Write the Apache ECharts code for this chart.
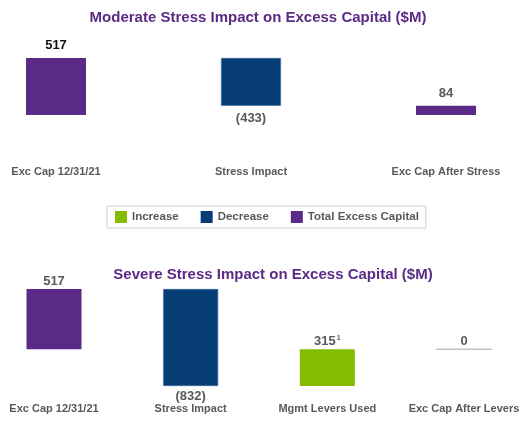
<!DOCTYPE html>
<html>
<head>
<meta charset="utf-8">
<script src="https://cdn.jsdelivr.net/npm/echarts@6/dist/echarts.min.js"></script>
<style>
  html, body { margin: 0; padding: 0; background: #fff; }
  #chart { width: 528px; height: 421px; }
</style>
</head>
<body>
<div id="chart"></div>
<script>
// moderate scenario
const modCategories = ['Exc Cap 12/31/21', 'Stress Impact', 'Exc Cap After Stress'];
const modValues = [517, -433, 84];
const modKinds = ['total', 'decrease', 'total'];

// severe scenario
const sevCategories = ['Exc Cap 12/31/21', 'Stress Impact', 'Mgmt Levers Used', 'Exc Cap After Levers'];
const sevValues = [517, -832, 315, 0];
const sevKinds = ['total', 'decrease', 'increase', 'total'];
const sevNotes = ['', '', '1', ''];

const kindNames = { total: 'Total Excess Capital', decrease: 'Decrease', increase: 'Increase' };
const kindColors = { total: '#5b2a86', decrease: '#063d74', increase: '#84bc00' };
const gray = '#595959';

// waterfall: invisible base + visible height, plus min/max of running total
function waterfall (values, kinds) {
  let run = 0, lo = 0, hi = 0;
  const base = [], height = [];
  for (let i = 0; i < values.length; i++) {
    const v = values[i];
    if (kinds[i] === 'total') {
      base.push(0); height.push(v); run = v;
    } else if (v < 0) {
      base.push(run + v); height.push(-v); run = run + v;
    } else {
      base.push(run); height.push(v); run = run + v;
    }
    lo = Math.min(lo, run); hi = Math.max(hi, run);
  }
  return { base, height, lo, hi };
}

const mod = waterfall(modValues, modKinds);
const sev = waterfall(sevValues, sevKinds);

function labelText (v, note) {
  let s = v < 0 ? '(' + (-v) + ')' : String(v);
  s = '{v|' + s + '}';
  if (note) s += '{s|' + note + '}';
  return s;
}

function buildSeries (idx, values, kinds, wf, barWidth, notes, upGap, downGap) {
  const list = [{
    type: 'bar', xAxisIndex: idx, yAxisIndex: idx, stack: 'w' + idx, stackStrategy: 'all',
    barWidth: barWidth, silent: true,
    itemStyle: { color: 'transparent' },
    data: wf.base
  }];
  ['total', 'decrease', 'increase'].forEach(kind => {
    const data = values.map((v, i) => {
      if (kinds[i] !== kind) return { value: 0, itemStyle: { color: 'transparent', borderWidth: 0 } };
      const item = {
        value: wf.height[i],
        label: {
          show: true,
          position: v < 0 ? 'bottom' : 'top',
          distance: v < 0 ? downGap : upGap,
          formatter: labelText(v, notes ? notes[i] : ''),
          rich: {
            v: { fontFamily: 'Liberation Sans', fontWeight: 'bold', fontSize: 13,
                 color: (idx === 0 && i === 0) ? '#111' : gray },
            s: { fontFamily: 'Liberation Sans', fontWeight: 'bold', fontSize: 7, color: gray,
                 padding: [0, 0, 7, 1] }
          }
        }
      };
      if (v === 0) {
        item.itemStyle = { color: '#bbb', borderColor: '#bbb', borderWidth: 1 };
      } else if (kind === 'decrease') {
        item.itemStyle = { borderColor: '#3f71a6', borderWidth: 0.6 };
      }
      return item;
    });
    list.push({
      type: 'bar', name: kindNames[kind], xAxisIndex: idx, yAxisIndex: idx,
      stack: 'w' + idx, stackStrategy: 'all', barWidth: barWidth,
      itemStyle: { color: kindColors[kind] },
      data: data
    });
  });
  return list;
}

function xAxis (idx, cats, margin) {
  return {
    type: 'category', gridIndex: idx, data: cats, boundaryGap: false,
    axisLine: { show: false }, axisTick: { show: false },
    axisLabel: { interval: 0, margin: margin, color: gray, fontFamily: 'Liberation Sans',
                 fontWeight: 'bold', fontSize: 11 }
  };
}

function yAxis (idx, wf) {
  return {
    type: 'value', gridIndex: idx, min: wf.lo, max: wf.hi, show: false,
    splitLine: { show: false }
  };
}

let myChart = echarts.init(document.getElementById('chart'));
let option = {
  animation: false,
  title: [
    { text: 'Moderate Stress Impact on Excess Capital ($M)', left: 253, top: 5, textAlign: 'center',
      textStyle: { color: '#5b2a86', fontFamily: 'Liberation Sans', fontWeight: 'bold', fontSize: 15 } },
    { text: 'Severe Stress Impact on Excess Capital ($M)', left: 268, top: 262, textAlign: 'center',
      textStyle: { color: '#5b2a86', fontFamily: 'Liberation Sans', fontWeight: 'bold', fontSize: 15 } }
  ],
  legend: {
    data: ['Increase', 'Decrease', 'Total Excess Capital'],
    left: 107, top: 206, icon: 'rect', itemWidth: 12, itemHeight: 12, itemGap: 22,
    padding: [5, 7, 5, 8], borderColor: '#d0d0d0', borderWidth: 1,
    textStyle: { color: gray, fontFamily: 'Liberation Sans', fontWeight: 'bold', fontSize: 11.5 }
  },
  grid: [
    { left: 56, right: 82, top: 58, bottom: 306 },
    { left: 54, right: 64, top: 289, bottom: 35 }
  ],
  xAxis: [xAxis(0, modCategories, 51), xAxis(1, sevCategories, 17)],
  yAxis: [yAxis(0, mod), yAxis(1, sev)],
  series: buildSeries(0, modValues, modKinds, mod, 60, null, 6, 6)
    .concat(buildSeries(1, sevValues, sevKinds, sev, 55, sevNotes, 1, 4))
};
myChart.setOption(option);
</script>
</body>
</html>
